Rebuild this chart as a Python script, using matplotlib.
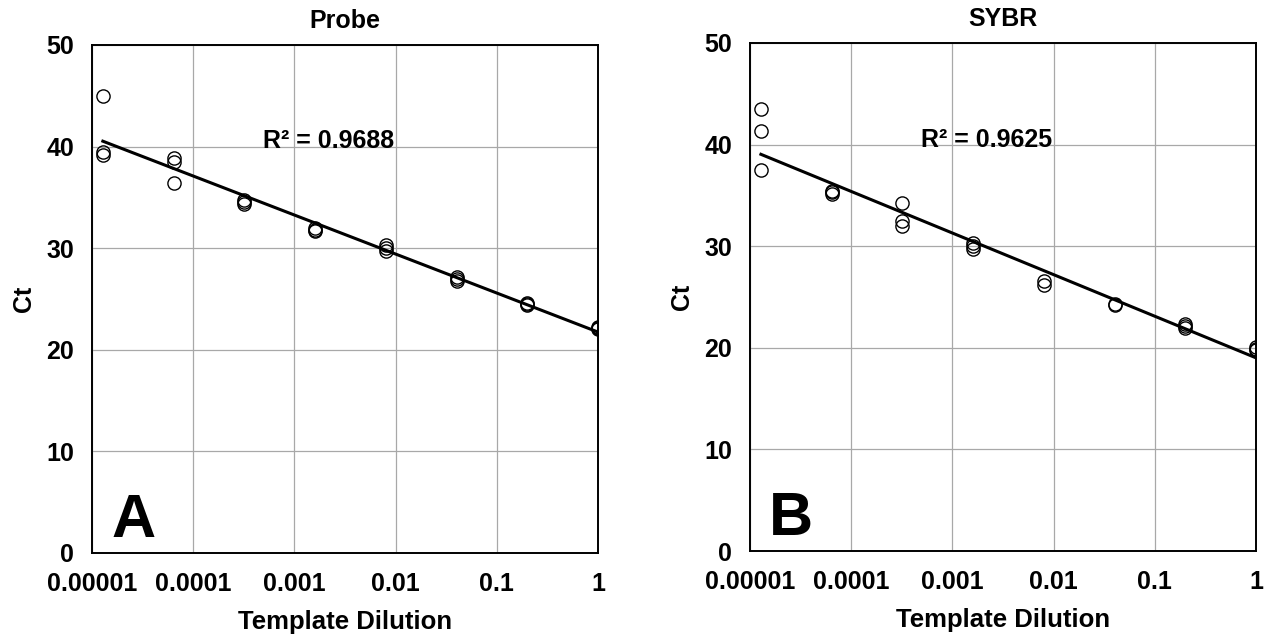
import matplotlib
matplotlib.use("Agg")
import matplotlib.pyplot as plt
import numpy as np

plt.rcParams['font.family'] = ['Liberation Sans', 'DejaVu Sans']
plt.rcParams['font.weight'] = 'bold'

# 5-fold dilution series
dil = [1.28e-5, 6.4e-5, 3.2e-4, 1.6e-3, 8e-3, 0.04, 0.2, 1.0]

# Probe replicates (Ct)
probe_x = [1.28e-5, 1.28e-5, 1.28e-5,
           6.4e-5, 6.4e-5, 6.4e-5,
           3.2e-4, 3.2e-4, 3.2e-4,
           1.6e-3, 1.6e-3, 1.6e-3,
           8e-3, 8e-3, 8e-3,
           0.04, 0.04, 0.04,
           0.2, 0.2, 0.2,
           1.0, 1.0, 1.0]
probe_ct = [45.0, 39.5, 39.2,
            38.9, 38.5, 36.4,
            34.7, 34.5, 34.3,
            32.0, 31.8, 31.7,
            30.3, 30.0, 29.7,
            27.2, 27.0, 26.8,
            24.6, 24.5, 24.4,
            22.2, 22.1, 22.0]

# SYBR replicates (Ct)
sybr_x = [1.28e-5, 1.28e-5, 1.28e-5,
          6.4e-5, 6.4e-5, 6.4e-5,
          3.2e-4, 3.2e-4, 3.2e-4,
          1.6e-3, 1.6e-3, 1.6e-3,
          8e-3, 8e-3,
          0.04, 0.04,
          0.2, 0.2, 0.2,
          1.0, 1.0, 1.0]
sybr_ct = [43.5, 41.3, 37.5,
           35.4, 35.3, 35.1,
           34.3, 32.5, 32.0,
           30.3, 30.0, 29.7,
           26.6, 26.2,
           24.3, 24.2,
           22.3, 22.1, 21.9,
           20.1, 19.9, 19.8]

panels = [
    ("Probe", probe_x, probe_ct, "R\u00b2 = 0.9688", "A", [0.0726, 0.1319, 0.3994, 0.7975]),
    ("SYBR", sybr_x, sybr_ct, "R\u00b2 = 0.9625", "B", [0.592, 0.135, 0.3994, 0.7975]),
]
xticks = [1e-5, 1e-4, 1e-3, 1e-2, 0.1, 1]
xticklabels = ["0.00001", "0.0001", "0.001", "0.01", "0.1", "1"]

fig = plt.figure(figsize=(12.67, 6.37), dpi=100)

for title, xs, ys, r2, letter, pos in panels:
    ax = fig.add_axes(pos)
    ax.set_xscale("log")
    ax.set_xlim(1e-5, 1)
    ax.set_ylim(0, 50)
    ax.set_xticks(xticks)
    ax.set_xticklabels(xticklabels)
    ax.minorticks_off()
    ax.set_yticks([0, 10, 20, 30, 40, 50])
    ax.grid(True, color="#a8a8a8", linewidth=0.9)
    ax.set_axisbelow(True)
    ax.tick_params(length=0, labelsize=18)
    ax.tick_params(axis="x", pad=14)
    ax.tick_params(axis="y", pad=13)
    for s in ax.spines.values():
        s.set_linewidth(1.4)
        s.set_color("black")

    ax.plot(xs, ys, "o", mfc="none", mec="black", mew=1.0, ms=9.5)

    lx = np.log10(xs)
    m, b = np.polyfit(lx, ys, 1)
    fx = np.array([min(lx), 0.0])
    ax.plot(10 ** fx, m * fx + b, color="black", lw=2.2)

    ax.text(10 ** -3.31, 40.5, r2, fontsize=18, fontweight="bold", va="center")
    ax.text(10 ** -4.81, 1.6, letter, fontsize=44, fontweight="bold")
    ax.set_title(title, fontsize=18, fontweight="bold", pad=12)
    ax.set_xlabel("Template Dilution", fontsize=18.5, fontweight="bold", labelpad=10)
    ax.set_ylabel("Ct", fontsize=18, fontweight="bold", labelpad=7)

fig.savefig("out.png", dpi=100)
